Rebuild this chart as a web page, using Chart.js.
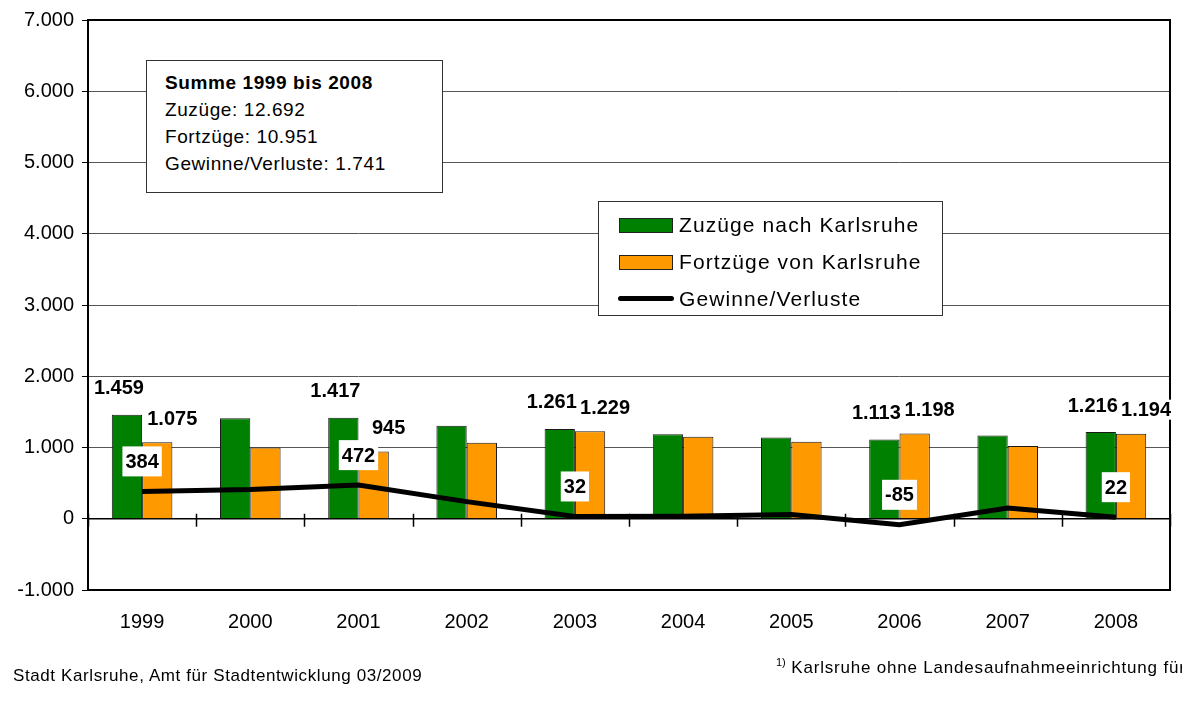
<!DOCTYPE html>
<html lang="de">
<head>
<meta charset="utf-8">
<title>Zuzüge und Fortzüge Karlsruhe 1999 bis 2008</title>
<script src="https://cdn.jsdelivr.net/npm/chart.js@4.4.1/dist/chart.umd.min.js"></script>
<style>
  html, body { margin: 0; padding: 0; background: #fff; }
  #wrap { position: relative; width: 1193px; height: 702px; overflow: hidden; font-family: "Liberation Sans", Arial, sans-serif; color: #000; }
  #chart { position: absolute; left: 0; top: 0; }
  .box { position: absolute; background: #fff; border: 1px solid #333; box-sizing: border-box; }
  #summe { left: 146px; top: 60px; width: 297px; height: 133px; padding: 8px 0 0 18px; font-size: 19px; letter-spacing: 0.6px; line-height: 27px; white-space: nowrap; }
  #legende { left: 598px; top: 201px; width: 345px; height: 115px; padding-top: 4px; font-size: 21px; letter-spacing: 1.1px; }
  .eintrag { position: relative; height: 37px; line-height: 37px; padding-left: 80px; white-space: nowrap; }
  .farbe { position: absolute; left: 20px; top: 12px; width: 52px; height: 13px; border: 1px solid #222; }
  .linie { position: absolute; left: 19px; top: 16px; width: 56px; height: 5px; border-radius: 3px; background: #000; }
  #quelle { position: absolute; left: 13px; top: 666px; font-size: 17px; letter-spacing: 0.6px; white-space: nowrap; }
  #fussnote { position: absolute; left: 776px; top: 656px; width: 406px; overflow: hidden; font-size: 17px; letter-spacing: 0.8px; white-space: nowrap; }
  #fussnote sup { font-size: 11px; letter-spacing: 0; }
</style>
</head>
<body>
<div id="wrap">
  <canvas id="chart" width="1193" height="702"></canvas>
  <div id="summe" class="box"></div>
  <div id="legende" class="box"></div>
  <div id="quelle">Stadt Karlsruhe, Amt für Stadtentwicklung 03/2009</div>
  <div id="fussnote"><sup>1)</sup> Karlsruhe ohne Landesaufnahmeeinrichtung für Asylbewerber</div>
</div>
<script>
// Werte
const jahre = ['1999', '2000', '2001', '2002', '2003', '2004', '2005', '2006', '2007', '2008'];
const zuzuege = [1459, 1410, 1417, 1305, 1261, 1185, 1140, 1113, 1170, 1216];
const fortzuege = [1075, 1000, 945, 1065, 1229, 1150, 1080, 1198, 1020, 1194];
const saldo = [384, 410, 472, 240, 32, 35, 60, -85, 150, 22];
// nur diese Jahre haben Beschriftungen
const beschriftet = [true, false, true, false, true, false, false, true, false, true];
const summenText = ['Summe 1999 bis 2008', 'Zuzüge: 12.692', 'Fortzüge: 10.951', 'Gewinne/Verluste: 1.741'];

const schrift = '"Liberation Sans", Arial, sans-serif';

// Tausenderpunkt wie im Original
function fmt(v) {
  const s = String(Math.abs(v)).replace(/\B(?=(\d{3})+(?!\d))/g, '.');
  return v < 0 ? '-' + s : s;
}

// Rahmen, Nulllinie und Striche auf der Kategorienachse
const rahmen = {
  id: 'rahmen',
  beforeDatasetsDraw(chart) {
    const { ctx, chartArea: a, scales } = chart;
    const y0 = scales.y.getPixelForValue(0);
    const halb = (scales.x.getPixelForValue(1) - scales.x.getPixelForValue(0)) / 2;
    ctx.save();
    ctx.strokeStyle = '#000';
    ctx.lineWidth = 1.5;
    ctx.beginPath();
    ctx.moveTo(a.left, y0);
    ctx.lineTo(a.right, y0);
    for (let i = 0; i <= jahre.length; i++) {
      const x = Math.round(scales.x.getPixelForValue(i) - halb) + 0.5;
      ctx.moveTo(x, y0 - 5);
      ctx.lineTo(x, y0 + 8);
    }
    ctx.stroke();
    ctx.lineWidth = 2;
    ctx.strokeRect(a.left, a.top, a.right - a.left, a.bottom - a.top);
    ctx.restore();
  }
};

// Datenbeschriftungen
const werte = {
  id: 'werte',
  afterDatasetsDraw(chart) {
    const ctx = chart.ctx;
    const gruen = chart.getDatasetMeta(0).data;
    const orange = chart.getDatasetMeta(1).data;
    const linie = chart.getDatasetMeta(2).data;
    ctx.save();
    ctx.font = 'bold 20px ' + schrift;
    ctx.textAlign = 'center';
    ctx.textBaseline = 'middle';

    function label(txt, x, y, h) {
      if (h) {
        const w = ctx.measureText(txt).width + 6;
        ctx.fillStyle = '#fff';
        ctx.fillRect(x - w / 2, y - h / 2, w, h);
      }
      ctx.fillStyle = '#000';
      ctx.fillText(txt, x, y + 1);
    }

    beschriftet.forEach((an, i) => {
      if (!an) return;
      label(fmt(zuzuege[i]), gruen[i].x - 8, gruen[i].y - 27, 0);
      label(fmt(fortzuege[i]), orange[i].x + 15, orange[i].y - 24, 20);
      label(fmt(saldo[i]), linie[i].x, linie[i].y - 30, 30);
    });
    ctx.restore();
  }
};

const chart = new Chart(document.getElementById('chart'), {
  type: 'bar',
  data: {
    labels: jahre,
    datasets: [
      {
        label: 'Zuzüge nach Karlsruhe',
        data: zuzuege,
        backgroundColor: '#008000',
        borderColor: '#1a1a1a',
        borderWidth: 1,
        categoryPercentage: 0.56,
        barPercentage: 1,
        order: 2
      },
      {
        label: 'Fortzüge von Karlsruhe',
        data: fortzuege,
        backgroundColor: '#FF9900',
        borderColor: '#1a1a1a',
        borderWidth: 1,
        categoryPercentage: 0.56,
        barPercentage: 1,
        order: 2
      },
      {
        type: 'line',
        label: 'Gewinne/Verluste',
        data: saldo,
        borderColor: '#000',
        backgroundColor: '#000',
        borderWidth: 5,
        pointRadius: 0,
        tension: 0,
        order: 1
      }
    ]
  },
  options: {
    responsive: false,
    animation: false,
    layout: { padding: { top: 20, right: 23, left: 0, bottom: 0 } },
    plugins: {
      legend: { display: false },
      tooltip: { enabled: false }
    },
    scales: {
      x: {
        grid: { display: false },
        border: { display: false },
        ticks: { color: '#000', font: { size: 20, family: schrift }, padding: 12 },
        afterFit: s => { s.height = 112; }
      },
      y: {
        min: -1000,
        max: 7000,
        grid: { color: '#555', lineWidth: 1, tickLength: 6, tickColor: '#000' },
        border: { display: false },
        ticks: {
          stepSize: 1000,
          color: '#000',
          padding: 8,
          font: { size: 20, family: schrift },
          callback: v => fmt(v)
        },
        afterFit: s => { s.width = 88; }
      }
    }
  },
  plugins: [rahmen, werte]
});

// Textkasten mit Summen
document.getElementById('summe').innerHTML = summenText
  .map((t, i) => i === 0 ? '<b>' + t + '</b>' : t)
  .join('<br>');

// Legende aus den Datensätzen
document.getElementById('legende').innerHTML = chart.data.datasets.map(ds => {
  const marke = ds.type === 'line'
    ? '<span class="linie"></span>'
    : '<span class="farbe" style="background:' + ds.backgroundColor + '"></span>';
  return '<div class="eintrag">' + marke + ds.label + '</div>';
}).join('');
</script>
</body>
</html>
